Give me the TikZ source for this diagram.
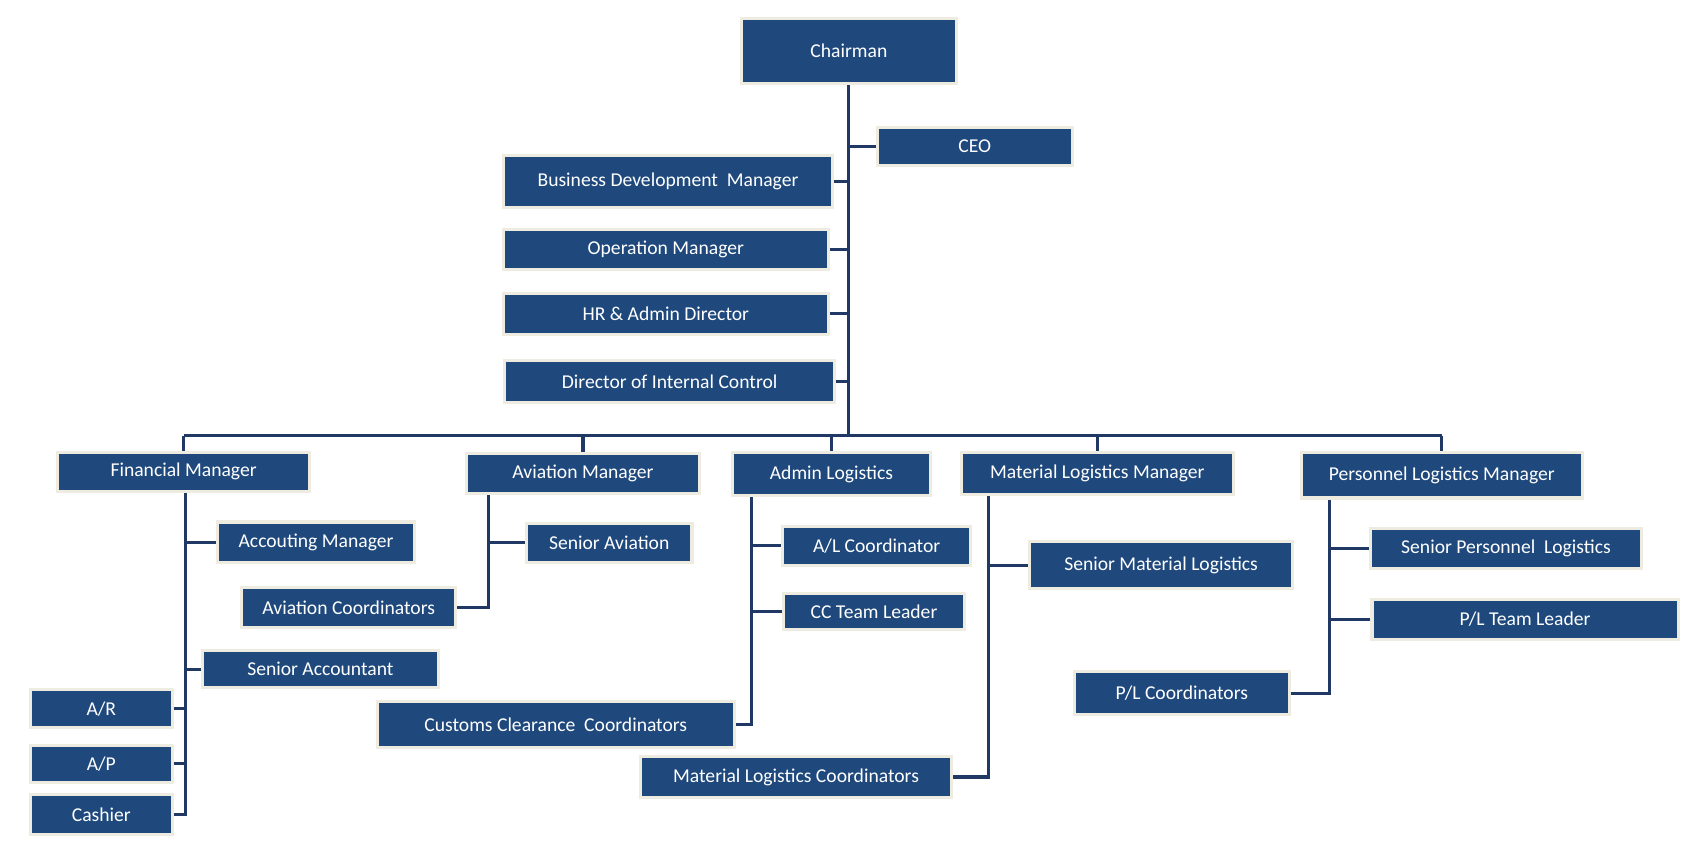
\documentclass[tikz,border=0pt]{standalone}
\usepackage{fontspec}
\setmainfont{Carlito}
\definecolor{boxfill}{RGB}{31,73,125}
\definecolor{boxedge}{RGB}{238,236,225}
\definecolor{linec}{RGB}{31,56,100}
\newcommand{\bx}[6]{%
  \pgfmathsetmacro{\cx}{(#2+#4)/2}\pgfmathsetmacro{\cy}{(#3+#5)/2}%
  \pgfmathsetmacro{\ww}{(#4-#2)*0.5}\pgfmathsetmacro{\hh}{(#5-#3)*0.5}%
  \node[bx,minimum width=\ww pt,minimum height=\hh pt] (#1) at (\cx,\cy) {#6};}
\begin{document}
\begin{tikzpicture}[x=0.5pt,y=-0.5pt,
  bx/.style={fill=boxfill,draw=boxedge,line width=1.4pt,text=white,font=\fontsize{9}{10}\selectfont,inner sep=0pt},
  ln/.style={draw=linec,line width=1.4pt}]
\useasboundingbox (0,0) rectangle (1560,780);
\bx{chair}{680}{17}{878}{77}{Chairman}
\bx{ceo}{805}{117}{984}{152}{CEO}
\bx{bdm}{462}{143}{764}{190}{Business Development\ \ Manager}
\bx{opm}{462}{211}{760}{247}{Operation Manager}
\bx{hr}{462}{269}{760}{307}{HR \& Admin Director}
\bx{dic}{463}{331}{766}{369}{Director of Internal Control}
\bx{fin}{53}{415}{284}{451}{Financial Manager}
\bx{avm}{428}{416}{642}{453}{Aviation Manager}
\bx{adm}{672}{415}{854}{455}{Admin Logistics}
\bx{mat}{882}{415}{1132}{454}{Material Logistics Manager}
\bx{per}{1194}{415}{1452}{457}{Personnel Logistics Manager}
\bx{acc}{200}{479}{380}{516}{Accouting Manager}
\bx{sac}{186}{597}{402}{631}{Senior Accountant}
\bx{ar}{28}{633}{158}{668}{A/R}
\bx{ap}{28}{684}{158}{718}{A/P}
\bx{cash}{28}{729}{158}{766}{Cashier}
\bx{sav}{483}{480}{635}{516}{Senior Aviation}
\bx{avc}{222}{539}{418}{576}{Aviation Coordinators}
\bx{alc}{718}{483}{891}{519}{A/L Coordinator}
\bx{cct}{719}{545}{885}{578}{CC Team Leader}
\bx{ccc}{346}{644}{674}{686}{Customs Clearance\ \ Coordinators}
\bx{sml}{945}{497}{1186}{540}{Senior Material Logistics}
\bx{mlc}{588}{694}{873}{732}{Material Logistics Coordinators}
\bx{spl}{1258}{485}{1506}{522}{Senior Personnel\ \ Logistics}
\bx{plt}{1259}{550}{1540}{587}{P/L Team Leader}
\bx{plc}{986}{616}{1183}{656}{P/L Coordinators}
\coordinate (bus) at (0,400);
\coordinate (tx) at (779,0);
\coordinate (fx) at (170,0);
\coordinate (avx) at (448,0);
\coordinate (adx) at (690,0);
\coordinate (mtx) at (907,0);
\coordinate (pex) at (1220,0);
% trunk
\draw[ln] (chair.south -| tx) -- (bus -| tx);
\foreach \n in {ceo,bdm,opm,hr,dic}{\draw[ln] (\n) -- (\n -| tx);}
\draw[ln] (bus -| fin.north) -- (bus -| per.north);
\foreach \n in {fin,avm,adm,mat,per}{\draw[ln] (bus -| \n.north) -- (\n.north);}
% financial
\draw[ln] (fin.south -| fx) -- (cash.east -| fx) -- (cash.east);
\foreach \n in {acc,sac,ar,ap}{\draw[ln] (\n) -- (\n -| fx);}
% aviation
\draw[ln] (avm.south -| avx) -- (avc.east -| avx) -- (avc.east);
\draw[ln] (sav) -- (sav -| avx);
% admin
\draw[ln] (adm.south -| adx) -- (ccc.east -| adx) -- (ccc.east);
\foreach \n in {alc,cct}{\draw[ln] (\n) -- (\n -| adx);}
% material
\draw[ln] (mat.south -| mtx) -- (mlc.east -| mtx) -- (mlc.east);
\draw[ln] (sml) -- (sml -| mtx);
% personnel
\draw[ln] (per.south -| pex) -- (plc.east -| pex) -- (plc.east);
\foreach \n in {spl,plt}{\draw[ln] (\n) -- (\n -| pex);}
% redraw boxes over lines
\end{tikzpicture}
\end{document}
